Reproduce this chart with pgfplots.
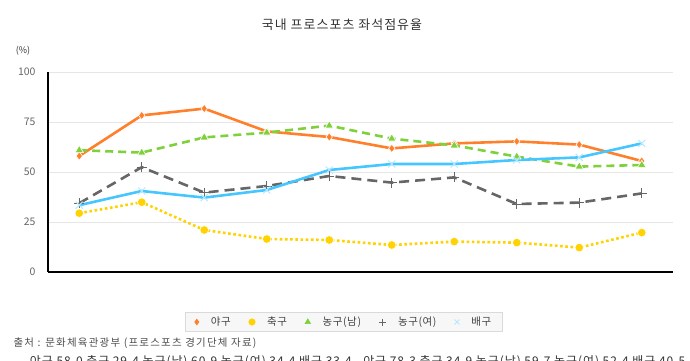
\documentclass[border=0pt]{standalone}
\usepackage{fontspec}
\setmainfont{Noto Sans CJK KR}
\usepackage{pgfplots}
\pgfplotsset{compat=1.18}
\definecolor{cOrange}{HTML}{FF7F2A}
\definecolor{cYellow}{HTML}{FFD200}
\definecolor{cGreen}{HTML}{7FD13B}
\definecolor{cGray}{HTML}{666666}
\definecolor{cBlue}{HTML}{45C6FF}
\definecolor{cBlueMark}{HTML}{B5E8FF}
\definecolor{gridgray}{HTML}{E6E6E6}
\definecolor{tickgray}{HTML}{666666}
\definecolor{legendbg}{HTML}{F7F7F7}
\definecolor{legendborder}{HTML}{DADADA}
\begin{document}
\begin{tikzpicture}[x=1bp,y=1bp]
\useasboundingbox (0,0) rectangle (690,360);
\node[font=\fontsize{13}{15}\selectfont\addfontfeature{LetterSpace=8}, text=black!80] at (342,335) {국내 프로스포츠 좌석점유율};
\node[font=\fontsize{9}{10}\selectfont, text=black!80] at (23,309) {(\%)};
\node[font=\fontsize{10.5}{12}\selectfont\addfontfeature{LetterSpace=12}, text=black!70, anchor=west] at (10,17) {출처 : 문화체육관광부 (프로스포츠 경기단체 자료)};
\node[font=\fontsize{12}{14}\selectfont\addfontfeature{LetterSpace=8}, text=black!80, anchor=base west, inner sep=0pt] at (22,-5) {- 야구 58.0 축구 29.4 농구(남) 60.9 농구(여) 34.4 배구 33.4 - 야구 78.3 축구 34.9 농구(남) 59.7 농구(여) 52.4 배구 40.5 -};
\begin{axis}[
  at={(48bp,88bp)}, anchor=south west,
  scale only axis, width=625bp, height=200bp,
  xmin=-0.5, xmax=9.5, ymin=0, ymax=100,
  ytick={0,25,50,75,100}, xtick=\empty,
  axis x line=bottom, axis y line=left,
  axis line style={-, line width=1.1bp, black},
  ymajorgrids, grid style={line width=0.8bp, gridgray},
  major tick length=0pt,
  yticklabel style={font=\fontsize{10.5}{12}\selectfont, text=tickgray, xshift=-9bp},
  /pgf/number format/assume math mode=true,
  clip=false,
  legend style={at={(0.4736,-0.25)}, anchor=center, legend columns=5,
    fill=legendbg, draw=legendborder, line width=0.6bp,
    font=\fontsize{10.5}{12}\selectfont\addfontfeature{LetterSpace=6}, text=black!75,
    inner xsep=9bp, inner ysep=2.5bp,
    /tikz/every odd column/.append style={column sep=10bp},
    /tikz/every even column/.append style={column sep=16bp}},
  legend cell align=left,
]
% series
\addplot[cOrange, line width=2.6bp, mark=diamond*, mark size=4.2bp, mark options={solid, fill=cOrange, draw=white, line width=0.6bp}, forget plot]
  coordinates {(0,58.0) (1,78.3) (2,81.7) (3,70.3) (4,67.5) (5,61.8) (6,64.3) (7,65.3) (8,63.7) (9,55.5)};
\addplot[cYellow, line width=2.6bp, dash pattern=on 2.6bp off 2.6bp, mark=*, mark size=4.3bp, mark options={solid, fill=cYellow, draw=white, line width=0.6bp}, forget plot]
  coordinates {(0,29.4) (1,34.9) (2,21.0) (3,16.5) (4,16.0) (5,13.5) (6,15.2) (7,14.7) (8,12.2) (9,19.7)};
\addplot[cGreen, line width=2.6bp, dash pattern=on 8bp off 5bp, mark=triangle*, mark size=4.8bp, mark options={solid, fill=cGreen, draw=white, line width=0.6bp}, forget plot]
  coordinates {(0,60.9) (1,59.7) (2,67.3) (3,69.7) (4,73.2) (5,66.7) (6,63.3) (7,57.7) (8,52.7) (9,53.5)};
\addplot[cGray, line width=2.6bp, dash pattern=on 10bp off 6bp, mark=+, mark size=5bp, mark options={solid, draw=cGray, line width=1bp}, forget plot]
  coordinates {(0,34.4) (1,52.4) (2,39.7) (3,43.0) (4,48.0) (5,44.7) (6,47.3) (7,34.0) (8,34.7) (9,39.3)};
\addplot[cBlue, line width=2.6bp, mark=x, mark size=5bp, mark options={solid, draw=cBlueMark, line width=1bp}, forget plot]
  coordinates {(0,33.4) (1,40.5) (2,37.2) (3,41.0) (4,51.0) (5,54.0) (6,54.0) (7,56.0) (8,57.3) (9,64.3)};
% legend
\addlegendimage{only marks, mark=diamond*, mark size=2.8bp, mark options={fill=cOrange, draw=cOrange}}
\addlegendentry{야구}
\addlegendimage{only marks, mark=*, mark size=3.2bp, mark options={fill=cYellow, draw=cYellow}}
\addlegendentry{축구}
\addlegendimage{only marks, mark=triangle*, mark size=3.2bp, mark options={fill=cGreen, draw=cGreen}}
\addlegendentry{농구(남)}
\addlegendimage{only marks, mark=+, mark size=3.5bp, mark options={draw=cGray, line width=0.8bp}}
\addlegendentry{농구(여)}
\addlegendimage{only marks, mark=x, mark size=3.5bp, mark options={draw=cBlueMark, line width=0.8bp}}
\addlegendentry{배구}
\end{axis}
\end{tikzpicture}
\end{document}
